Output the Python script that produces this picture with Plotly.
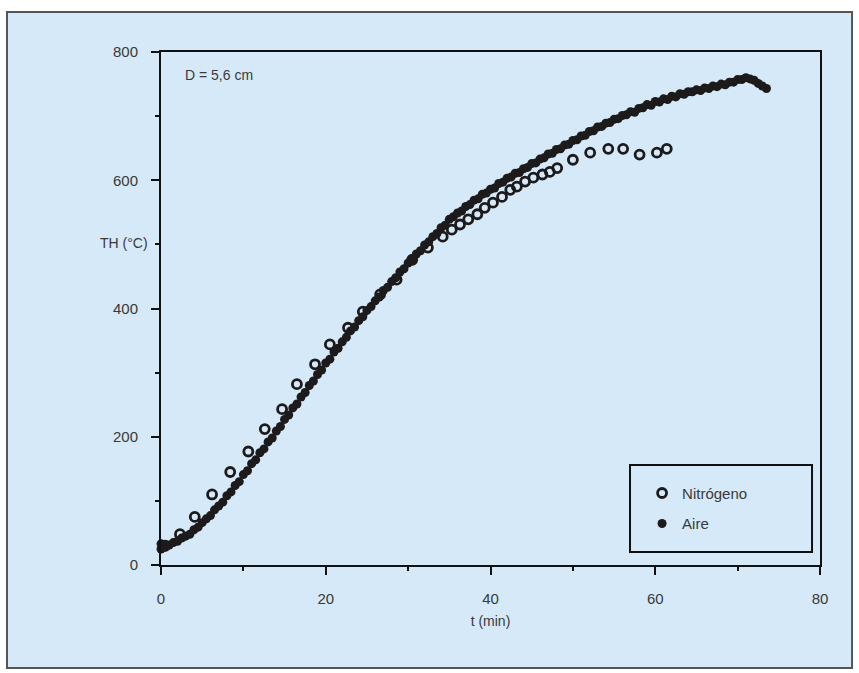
import plotly.graph_objects as go

# Nitrógeno (open circles): time in min, TH in °C
t_nitrogeno = [0.5, 2.3, 4.1, 6.2, 8.4, 10.6, 12.6, 14.7, 16.5, 18.7, 20.5, 22.7, 24.5,
               26.6, 28.6, 30.5, 32.4, 34.2, 35.3, 36.3, 37.3, 38.4, 39.3, 40.3, 41.4,
               42.4, 43.2, 44.2, 45.2, 46.3, 47.2, 48.1, 50.0, 52.1, 54.3, 56.1, 58.1,
               60.2, 61.4]
th_nitrogeno = [30, 48, 75, 110, 145, 177, 212, 243, 282, 313, 344, 370, 395,
                422, 445, 476, 495, 512, 523, 531, 539, 547, 557, 565, 574,
                585, 590, 598, 604, 609, 613, 619, 632, 643, 649, 649, 640,
                643, 649]

# Aire (filled dots): time in min, TH in °C
t_aire = [0.0, 0.0, 0.5, 1.0, 1.5, 2.0, 2.5, 3.0, 3.5, 4.0, 4.5, 5.0, 5.5, 6.0, 6.5,
          7.0, 7.5, 8.0, 8.5, 9.0, 9.5, 10.0, 10.5, 11.0, 11.5, 12.0, 12.5, 13.0,
          13.5, 14.0, 14.5, 15.0, 15.5, 16.0, 16.5, 17.0, 17.5, 18.0, 18.5, 19.0,
          19.5, 20.0, 20.5, 21.0, 21.5, 22.0, 22.5, 23.0, 23.5, 24.0, 24.5, 25.0,
          25.5, 26.0, 26.5, 27.0, 27.5, 28.0, 28.5, 29.0, 29.5, 30.0, 30.5, 31.0,
          31.5, 32.0, 32.5, 33.0, 33.5, 34.0, 34.5, 35.0, 35.5, 36.0, 36.5, 37.0,
          37.5, 38.0, 38.5, 39.0, 39.5, 40.0, 40.5, 41.0, 41.5, 42.0, 42.5, 43.0,
          43.5, 44.0, 44.5, 45.0, 45.5, 46.0, 46.5, 47.0, 47.5, 48.0, 48.5, 49.0,
          49.5, 50.0, 50.5, 51.0, 51.5, 52.0, 52.5, 53.0, 53.5, 54.0, 54.5, 55.0,
          55.5, 56.0, 56.5, 57.0, 57.5, 58.0, 58.5, 59.0, 59.5, 60.0, 60.5, 61.0,
          61.5, 62.0, 62.5, 63.0, 63.5, 64.0, 64.5, 65.0, 65.5, 66.0, 66.5, 67.0,
          67.5, 68.0, 68.5, 69.0, 69.5, 70.0, 70.5, 71.0, 71.5, 72.0, 72.5, 73.0,
          73.5]
th_aire = [25, 33, 28, 31, 35, 37, 42, 45, 48, 55, 59, 66, 72, 77, 86,
           92, 98, 108, 114, 124, 130, 141, 147, 158, 164, 175, 181, 192,
           198, 209, 216, 227, 234, 245, 251, 262, 269, 280, 287, 297,
           304, 315, 321, 332, 338, 348, 355, 365, 371, 381, 387, 397,
           403, 412, 418, 428, 433, 442, 448, 457, 462, 471, 476, 485,
           490, 499, 504, 512, 517, 526, 530, 539, 543, 549, 552, 559,
           562, 569, 571, 578, 580, 586, 588, 595, 597, 603, 605, 611,
           612, 618, 620, 626, 627, 633, 635, 641, 642, 648, 649, 655,
           656, 662, 663, 669, 670, 676, 677, 683, 684, 689, 690, 695,
           696, 701, 702, 707, 706, 712, 713, 718, 717, 723, 722, 727,
           726, 731, 730, 735, 734, 738, 738, 741, 740, 744, 743, 747,
           746, 750, 749, 753, 753, 757, 757, 760, 758, 756, 751, 747,
           743]

x_ticks = [0, 20, 40, 60, 80]
y_ticks = [0, 200, 400, 600, 800]

BG = "#d5e9f8"
INK = "#1c1a1a"
TXT = "#3a3a3a"
FONT = "Liberation Sans, Arial, sans-serif"

fig = go.Figure()

fig.add_trace(go.Scatter(
    x=t_nitrogeno, y=th_nitrogeno, mode="markers", name="Nitrógeno",
    legendgroup="n", cliponaxis=False,
    marker=dict(symbol="circle-open", size=9, color=INK, line=dict(width=2.8, color=INK)),
))
fig.add_trace(go.Scatter(
    x=t_aire, y=th_aire, mode="markers", name="Aire",
    legendgroup="a", cliponaxis=False,
    marker=dict(symbol="circle", size=9, color=INK, line=dict(width=0)),
))

# outer frame of the figure panel
fig.add_shape(type="rect", xref="paper", yref="paper",
              x0=-0.2337, x1=1.0486, y0=-0.2008, y1=1.078,
              line=dict(color="#555555", width=2), fillcolor=BG, layer="below")
# legend box
fig.add_shape(type="rect", xref="paper", yref="paper",
              x0=0.7117, x1=0.9879, y0=0.0253, y1=0.1949,
              line=dict(color="#111111", width=2), fillcolor="rgba(0,0,0,0)")

fig.add_annotation(text="D = 5,6 cm", xref="paper", yref="paper",
                   x=0.033, y=0.955, xanchor="left", yanchor="middle",
                   showarrow=False, font=dict(family=FONT, size=14, color=TXT))
fig.add_annotation(text="TH (°C)", xref="paper", yref="paper",
                   x=-0.017, y=0.628, xanchor="right", yanchor="middle",
                   showarrow=False, font=dict(family=FONT, size=14, color=TXT))

axis_common = dict(
    showline=True, linecolor="#111111", linewidth=2, mirror=True,
    showgrid=False, zeroline=False,
    ticks="outside", ticklen=8, tickwidth=2, tickcolor="#111111",
    tickfont=dict(family=FONT, size=15, color=TXT),
)

fig.update_xaxes(range=[0, 80], tickvals=x_ticks,
                 minor=dict(dtick=10, ticks="outside", ticklen=4, tickwidth=2, tickcolor="#111111"),
                 ticklabelstandoff=11,
                 title=dict(text="t (min)", font=dict(family=FONT, size=14, color=TXT), standoff=10),
                 **axis_common)
fig.update_yaxes(range=[0, 800], tickvals=y_ticks,
                 minor=dict(dtick=100, ticks="outside", ticklen=4, tickwidth=2, tickcolor="#111111"),
                 ticklabelstandoff=10,
                 **axis_common)

fig.update_layout(
    width=859, height=673,
    margin=dict(l=161, r=39, t=52, b=108),
    paper_bgcolor="white", plot_bgcolor=BG,
    font=dict(family=FONT, size=14, color=TXT),
    showlegend=True,
    legend=dict(x=0.73, y=0.172, xanchor="left", yanchor="top",
                bgcolor="rgba(0,0,0,0)", borderwidth=0,
                traceorder="grouped", tracegroupgap=8,
                font=dict(family=FONT, size=15, color=TXT)),
)

fig.write_html("out.html")
